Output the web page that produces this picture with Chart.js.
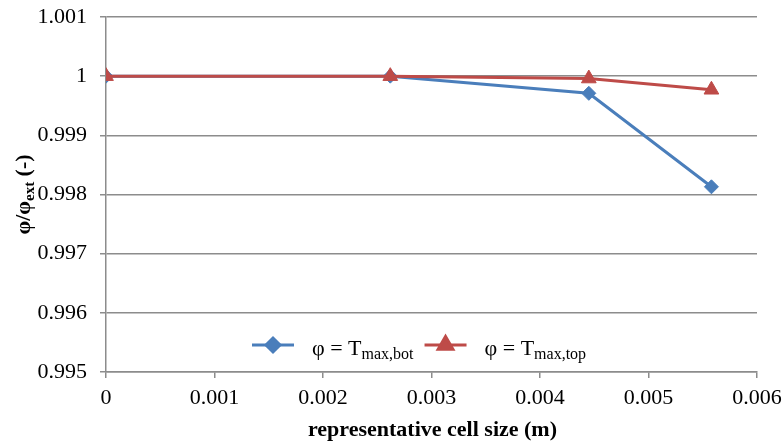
<!DOCTYPE html>
<html>
<head>
<meta charset="utf-8">
<script src="https://cdn.jsdelivr.net/npm/chart.js@4"></script>
<style>
  html, body { margin: 0; padding: 0; background: #fff; }
  #wrap { width: 784px; height: 446px; }
</style>
</head>
<body>
<div id="wrap"><canvas id="chart" width="784" height="446"></canvas></div>
<script>
// cell size (m) and the two normalised series
const cellSize = [0, 0.00262, 0.00445, 0.00558];
const botValues = [1, 1, 0.99971, 0.99813];
const topValues = [1, 1, 0.99996, 0.99977];

const xTicks = [0, 0.001, 0.002, 0.003, 0.004, 0.005, 0.006];
const yTicks = [0.995, 0.996, 0.997, 0.998, 0.999, 1, 1.001];

const BLUE = "#4A7EBB";
const RED = "#BE4B48";
const GRID = "#8c8c8c";
const SERIF = "'Liberation Serif', 'Times New Roman', serif";

const toPoints = (ys) => cellSize.map((x, i) => ({ x: x, y: ys[i] }));

// draws "main" + subscript, returns width used
function subText(ctx, x, y, main, sub, size, subSize, bold) {
  const w = bold ? "bold " : "";
  ctx.font = w + size + "px " + SERIF;
  ctx.fillText(main, x, y);
  const mw = ctx.measureText(main).width;
  ctx.font = w + subSize + "px " + SERIF;
  ctx.fillText(sub, x + mw, y + 4);
  return mw + ctx.measureText(sub).width;
}

const titlesAndLegend = {
  id: "titlesAndLegend",
  afterDraw(chart) {
    const ctx = chart.ctx;
    const area = chart.chartArea;
    ctx.save();
    ctx.fillStyle = "#000";
    ctx.textBaseline = "alphabetic";

    // x axis title
    ctx.font = "bold 22px " + SERIF;
    ctx.textAlign = "center";
    ctx.fillText("representative cell size (m)", (area.left + area.right) / 2 + 1, area.bottom + 64);

    // y axis title, rotated
    ctx.translate(30, (area.top + area.bottom) / 2);
    ctx.rotate(-Math.PI / 2);
    ctx.textAlign = "left";
    ctx.font = "bold 22px " + SERIF;
    const w1 = ctx.measureText("φ/φ").width;
    const w3 = ctx.measureText(" (-)").width;
    ctx.font = "bold 15px " + SERIF;
    const w2 = ctx.measureText("ext").width;
    const x0 = -(w1 + w2 + w3) / 2;
    const used = subText(ctx, x0, 0, "φ/φ", "ext", 22, 15, true);
    ctx.font = "bold 22px " + SERIF;
    ctx.fillText(" (-)", x0 + used, 0);
    ctx.restore();

    // legend inside the plot area
    ctx.save();
    const ly = area.bottom - 27;
    const entries = [
      { color: BLUE, style: "rectRot", r: 7, main: "φ = T", sub: "max,bot" },
      { color: RED, style: "triangle", r: 8.5, main: "φ = T", sub: "max,top" }
    ];
    let lx = 252;
    ctx.textAlign = "left";
    entries.forEach((e) => {
      ctx.strokeStyle = e.color;
      ctx.lineWidth = 3;
      ctx.beginPath();
      ctx.moveTo(lx, ly);
      ctx.lineTo(lx + 42, ly);
      ctx.stroke();
      ctx.fillStyle = e.color;
      Chart.helpers.drawPoint(ctx, { pointStyle: e.style, radius: e.r, borderWidth: 1 }, lx + 21, ly);
      ctx.fillStyle = "#000";
      const tw = subText(ctx, lx + 60, ly + 10, e.main, e.sub, 22, 16, false);
      lx += 60 + tw + 11;
    });
    ctx.restore();
  }
};

new Chart(document.getElementById("chart"), {
  type: "scatter",
  data: {
    datasets: [
      {
        label: "φ = Tmax,bot",
        data: toPoints(botValues),
        showLine: true,
        order: 1,
        borderColor: BLUE,
        backgroundColor: BLUE,
        borderWidth: 3,
        pointStyle: "rectRot",
        pointRadius: 7,
        pointBorderWidth: 1
      },
      {
        label: "φ = Tmax,top",
        data: toPoints(topValues),
        showLine: true,
        order: 0,
        borderColor: RED,
        backgroundColor: RED,
        borderWidth: 3,
        pointStyle: "triangle",
        pointRadius: 8.5,
        pointBorderWidth: 1
      }
    ]
  },
  options: {
    responsive: false,
    animation: false,
    layout: { padding: { top: 17, right: 27, bottom: 0, left: 0 } },
    plugins: {
      legend: { display: false },
      tooltip: { enabled: false }
    },
    scales: {
      x: {
        type: "linear",
        min: 0,
        max: 0.006,
        afterBuildTicks: (axis) => { axis.ticks = xTicks.map((v) => ({ value: v })); },
        afterFit: (axis) => {
          axis.height = 74;
          axis.paddingLeft = 0;
          axis.paddingRight = 0;
        },
        grid: {
          drawOnChartArea: false,
          drawTicks: true,
          tickLength: 6,
          color: GRID,
          lineWidth: 1.5
        },
        border: { color: GRID, width: 1.5 },
        ticks: {
          color: "#000",
          padding: 7,
          maxRotation: 0,
          font: { family: SERIF, size: 22 },
          callback: (v) => String(+v.toFixed(3))
        }
      },
      y: {
        type: "linear",
        min: 0.995,
        max: 1.001,
        afterBuildTicks: (axis) => { axis.ticks = yTicks.map((v) => ({ value: v })); },
        afterFit: (axis) => {
          axis.width = 106;
          axis.paddingTop = 0;
          axis.paddingBottom = 0;
        },
        grid: {
          drawTicks: true,
          tickLength: 6,
          color: GRID,
          lineWidth: 1.5
        },
        border: { color: GRID, width: 1.5 },
        ticks: {
          color: "#000",
          padding: 13,
          font: { family: SERIF, size: 22 },
          callback: (v) => String(+v.toFixed(3))
        }
      }
    }
  },
  plugins: [titlesAndLegend]
});
</script>
</body>
</html>
